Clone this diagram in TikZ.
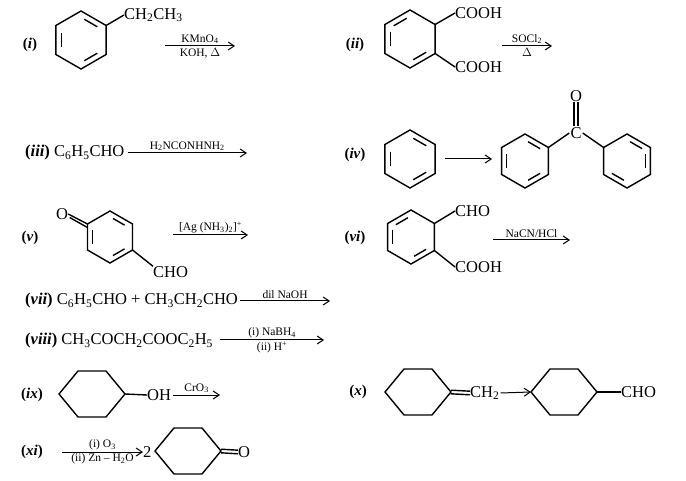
\documentclass[tikz,border=0pt]{standalone}
\usepackage{fontspec}
\setmainfont{Liberation Serif}
\usetikzlibrary{calc,arrows.meta}
\newcommand{\sbs}[1]{\textsubscript{#1}}
\newcommand{\sps}[1]{\textsuperscript{#1}}
\tikzset{
  bnd/.style={line width=1.4pt},
  rx/.style={line width=1pt,-{Straight Barb[length=6pt,width=8pt]}},
  big/.style={font=\fontsize{16.5}{16.5}\selectfont,inner sep=0pt},
  lab/.style={font=\fontsize{15}{15}\selectfont\bfseries,inner sep=0pt},
  reag/.style={font=\fontsize{11.5}{11.5}\selectfont,inner sep=1.5pt},
}
\newcommand{\benz}[4]{% name cx cy r
  \coordinate (#1) at (#2,#3);
  \foreach \k/\a in {1/30,2/90,3/150,4/210,5/270,6/330}{
    \coordinate (#1-\k) at ({#2+#4*cos(\a)},{#3-#4*sin(\a)});}
  \draw[bnd,line join=miter] (#1-1)--(#1-2)--(#1-3)--(#1-4)--(#1-5)--(#1-6)--cycle;}
\newcommand{\inb}[3]{% ring, vertex a, vertex b
  \path ($(#1-#2)!0.17!(#1-#3)$) coordinate (tP) ($(#1-#2)!0.83!(#1-#3)$) coordinate (tQ);
  \draw[bnd] ($(#1)!0.78!(tP)$) -- ($(#1)!0.78!(tQ)$);}
\newcommand{\cyc}[3]{% name cx cy ; stretched hexagon
  \coordinate (#1) at (#2,#3);
  \coordinate (#1-r) at ({#2+33},#3);
  \coordinate (#1-ur) at ({#2+14},{#3-23});
  \coordinate (#1-ul) at ({#2-14},{#3-23});
  \coordinate (#1-l) at ({#2-33},#3);
  \coordinate (#1-ll) at ({#2-14},{#3+23});
  \coordinate (#1-lr) at ({#2+14},{#3+23});
  \draw[bnd,line join=miter] (#1-r)--(#1-ur)--(#1-ul)--(#1-l)--(#1-ll)--(#1-lr)--cycle;}
\begin{document}
\begin{tikzpicture}[x=1pt,y=-1pt]
\useasboundingbox (0,0) rectangle (686,481);
% (i)
\node[lab] (li) at (30,45) {(\textit{i})};
\benz{A}{81}{40}{29}\inb{A}{1}{2}\inb{A}{3}{4}\inb{A}{5}{6}
\node[big,anchor=west] (A1) at (124,15) {CH\sbs{2}CH\sbs{3}};
\draw[bnd] (A-1) -- (A1.west);
\coordinate (ai1) at (165,46); \coordinate (ai2) at (235,46);
\draw[rx] (ai1) -- node[reag,above] {KMnO\sbs{4}} node[reag,below] {KOH, $\Delta$} (ai2);
% (ii)
\node[lab] (lii) at (355,45) {(\textit{ii})};
\benz{B}{410}{39}{29}\inb{B}{2}{3}\inb{B}{3}{4}\inb{B}{5}{6}
\node[big,anchor=west] (B1) at (455,13) {COOH};
\node[big,anchor=west] (B2) at (455,67) {COOH};
\draw[bnd] (B-1) -- (B1.west); \draw[bnd] (B-6) -- (B2.west);
\coordinate (bi1) at (502,46); \coordinate (bi2) at (552,46);
\draw[rx] (bi1) -- node[reag,above] {SOCl\sbs{2}} node[reag,below] {$\Delta$} (bi2);
% (iii)
\node[big,anchor=west] (C0) at (25,153) {\textbf{(\textit{iii})} C\sbs{6}H\sbs{5}CHO};
\coordinate (ci2) at (247,153);
\path (C0.east)++(3,0) coordinate (ci1);
\draw[rx] (ci1) -- node[reag,above] {H\sbs{2}NCONHNH\sbs{2}} (ci2);
% (iv)
\node[lab] (liv) at (355,155) {(\textit{iv})};
\benz{D}{410}{159}{29}\inb{D}{1}{2}\inb{D}{3}{4}\inb{D}{5}{6}
\coordinate (di1) at (445,159); \coordinate (di2) at (492,159);
\draw[rx] (di1) -- (di2);
\benz{E}{525}{161}{27}\inb{E}{1}{2}\inb{E}{3}{4}\inb{E}{5}{6}
\benz{F}{627}{161}{27}\inb{F}{1}{2}\inb{F}{6}{1}\inb{F}{4}{5}
\node[big,inner sep=1pt] (EC) at (576,133) {C};
\node[big] (EO) at (576,96) {O};
\draw[bnd] (E-1) -- (EC.west); \draw[bnd] (EC.east) -- (F-3);
\draw[bnd] ([xshift=-2pt]EO.south) -- ([xshift=-2pt]EC.north);
\draw[bnd] ([xshift=2pt]EO.south) -- ([xshift=2pt]EC.north);
% (v)
\node[lab] (lv) at (30,238) {(\textit{v})};
\benz{G}{110}{237}{26}\inb{G}{1}{2}\inb{G}{3}{4}\inb{G}{5}{6}
\node[big] (GO) at (62,214) {O};
\draw[bnd] (GO.east) -- (G-3);
\draw[bnd] ($(GO.east)+(1.5,3.5)$) -- ($(G-3)+(0,3.5)$);
\node[big,anchor=west] (G1) at (153,272) {CHO};
\draw[bnd] (G-6) -- (G1.north west);
\coordinate (gi1) at (173,235); \coordinate (gi2) at (248,235);
\draw[rx] (gi1) -- node[reag,above] {[Ag (NH\sbs{3})\sbs{2}]\sps{+}} (gi2);
% (vi)
\node[lab] (lvi) at (355,238) {(\textit{vi})};
\benz{H}{411}{237}{27}\inb{H}{2}{3}\inb{H}{3}{4}\inb{H}{5}{6}
\node[big,anchor=west] (H1) at (455,211) {CHO};
\node[big,anchor=west] (H2) at (455,267) {COOH};
\draw[bnd] (H-1) -- (H1.west); \draw[bnd] (H-6) -- (H2.west);
\coordinate (hi1) at (493,240); \coordinate (hi2) at (570,240);
\draw[rx] (hi1) -- node[reag,above] {NaCN/HCl} (hi2);
% (vii)
\node[big,anchor=west] (K0) at (25,301) {\textbf{(\textit{vii})} C\sbs{6}H\sbs{5}CHO + CH\sbs{3}CH\sbs{2}CHO};
\coordinate (ki2) at (330,301);
\path (K0.east)++(2,0) coordinate (ki1);
\draw[rx] (ki1) -- node[reag,above] {dil NaOH} (ki2);
% (viii)
\node[big,anchor=west] (L0) at (25,341) {\textbf{(\textit{viii})} CH\sbs{3}COCH\sbs{2}COOC\sbs{2}H\sbs{5}};
\path (L0.east)++(7,-1) coordinate (li1);
\coordinate (li2) at (324,340);
\draw[rx] (li1) -- node[reag,above] {(i) NaBH\sbs{4}} node[reag,below] {(ii) H\sps{+}} (li2);
% (ix)
\node[lab] (lix) at (32,395) {(\textit{ix})};
\cyc{M}{92}{394}
\node[big,anchor=west] (MO) at (147,395) {OH};
\draw[bnd] (M-r) -- (MO.west);
\coordinate (mi2) at (220,395);
\path (MO.east)++(2,0) coordinate (mi1);
\draw[rx] (mi1) -- node[reag,above] {CrO\sbs{3}} (mi2);
% (x)
\node[lab] (lx) at (358,392) {(\textit{x})};
\cyc{N}{418}{392}
\node[big,anchor=west] (NC) at (470,393) {CH\sbs{2}};
\draw[bnd] ($(N-r)+(0,-1.8)$) -- ($(NC.west)+(0,-1.8)$);
\draw[bnd] ($(N-r)+(0,1.8)$) -- ($(NC.west)+(0,1.8)$);
\cyc{P}{564}{392}
\path (NC.east)++(1,0) coordinate (ni1);
\draw[rx] (ni1) -- (P-l);
\node[big,anchor=west] (PC) at (621,392) {CHO};
\draw[bnd] (P-r) -- (PC.west);
% (xi)
\node[lab] (lxi) at (32,452) {(\textit{xi})};
\coordinate (qi1) at (62,452);
\node[big,anchor=west] (Q2) at (143,452) {2};
\draw[rx] (qi1) -- node[reag,above] {(i) O\sbs{3}} node[reag,below] {(ii) Zn -- H\sbs{2}O} (Q2.west);
\cyc{Q}{188}{451}
\node[big,anchor=west] (QO) at (238,452) {O};
\draw[bnd] ($(Q-r)+(0,-1.8)$) -- ($(QO.west)+(0,-1.8)$);
\draw[bnd] ($(Q-r)+(0,1.8)$) -- ($(QO.west)+(0,1.8)$);
\end{tikzpicture}
\end{document}
